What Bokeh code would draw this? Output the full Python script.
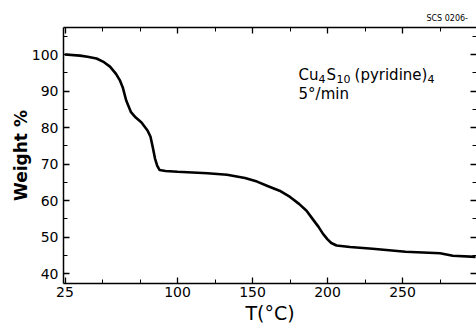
from bokeh.plotting import figure
from bokeh.models import FixedTicker, LinearAxis, Label, Range1d
from bokeh.embed import file_html
from bokeh.resources import INLINE

# Data
temp_c = [25, 35, 40, 46, 51, 55, 59, 61.5, 63.5, 65.8, 69, 72, 76, 80, 82, 83.5,
          85, 86.5, 88, 92, 100, 120, 133, 145, 153, 160, 168, 175, 181, 186, 190,
          194, 197, 200, 202.5, 206, 215, 230, 252, 275, 283.5, 298.7]
weight = [100.0, 99.7, 99.4, 98.9, 97.9, 96.7, 94.7, 93.0, 91.0, 87.4, 84.2, 82.8,
          81.4, 79.2, 77.5, 74.6, 71.5, 69.5, 68.4, 68.1, 67.9, 67.5, 67.1, 66.2,
          65.2, 64.0, 62.7, 61.0, 59.1, 57.2, 55.0, 52.8, 50.9, 49.4, 48.4, 47.7,
          47.3, 46.8, 46.0, 45.6, 44.9, 44.6]

x_major = [25, 100, 150, 200, 250]
x_minor = [50, 75, 125, 175, 225, 275]
y_major = [40, 50, 60, 70, 80, 90, 100]
y_minor = [45, 55, 65, 75, 85, 95, 105]

FONT = "DejaVu Sans"

p = figure(width=476, height=328, x_range=Range1d(24, 299.3), y_range=Range1d(37.3, 107.4),
           output_backend="svg", toolbar_location=None,
           min_border_left=63, min_border_right=0, min_border_top=27, min_border_bottom=45,
           x_axis_label="T(°C)", y_axis_label="Weight %")
p.outline_line_color = None
p.grid.visible = False
p.background_fill_color = "white"
p.border_fill_color = "white"

p.title.text = "SCS  0206-"
p.title.align = "right"
p.title.text_font = FONT
p.title.text_font_size = "8px"
p.title.text_font_style = "normal"
p.title.text_color = "black"
p.title.offset = 6

p.line(temp_c, weight, line_color="black", line_width=2.6)

def style_axis(ax, ticks, minor):
    ax.ticker = FixedTicker(ticks=ticks, minor_ticks=minor)
    ax.axis_line_color = "black"
    ax.axis_line_width = 1.5
    ax.major_tick_in = 6
    ax.major_tick_out = 0
    ax.minor_tick_in = 4
    ax.minor_tick_out = 0
    ax.major_tick_line_color = "black"
    ax.minor_tick_line_color = "black"
    ax.major_tick_line_width = 1.3
    ax.minor_tick_line_width = 1.0
    ax.major_label_text_font = FONT
    ax.major_label_text_color = "black"

xb = p.xaxis[0]
style_axis(xb, x_major, x_minor)
xb.major_label_text_font_size = "14px"
xb.major_label_standoff = 3
xb.axis_label_text_font = FONT
xb.axis_label_text_font_size = "19px"
xb.axis_label_text_font_style = "normal"
xb.axis_label_text_color = "black"
xb.axis_label_standoff = 2

yl = p.yaxis[0]
style_axis(yl, y_major, y_minor)
yl.major_label_text_font_size = "14px"
yl.major_label_standoff = 5
yl.axis_label_text_font = FONT
yl.axis_label_text_font_size = "17px"
yl.axis_label_text_font_style = "bold"
yl.axis_label_text_color = "black"
yl.axis_label_standoff = -2

top = LinearAxis()
style_axis(top, x_major, x_minor)
top.major_label_text_font_size = "0px"
top.major_label_text_color = None
top.major_label_standoff = 0
p.add_layout(top, "above")

right = LinearAxis()
style_axis(right, y_major, y_minor)
right.axis_line_color = None
right.major_label_text_font_size = "0px"
right.major_label_text_color = None
right.major_label_standoff = 0
p.add_layout(right, "right")

def lab(x, y, t, size):
    p.add_layout(Label(x=x, y=y, text=t, text_font=FONT, text_font_size=size,
                       text_color="black", text_baseline="alphabetic", text_align="left"))

lab(180.7, 94.5, "Cu", "15px")
lab(194.0, 93.4, "4", "11px")
lab(199.3, 94.5, "S", "15px")
lab(206.0, 93.4, "10", "11px")
lab(218.0, 94.5, "(pyridine)", "15px")
lab(266.7, 93.4, "4", "11px")
lab(180.7, 89.3, "5°/min", "15px")

open("out.html", "w").write(file_html(p, INLINE))
